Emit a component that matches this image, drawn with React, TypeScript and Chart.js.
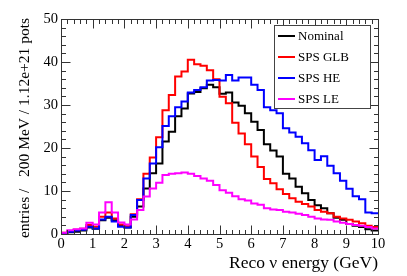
import { useEffect, useRef } from "react";
import { Chart, registerables } from "chart.js";

Chart.register(...registerables);

// ---- data (200 MeV bins from 0 to 10 GeV) ----
const BIN_WIDTH = 0.2;
const X_MIN = 0;
const X_MAX = 10;
const Y_MIN = 0;
const Y_MAX = 50;

const nominal = [
  0.2, 0.4, 0.5, 0.8, 1.5, 1.2, 3.2, 3.8, 3.2, 1.9,
  1.5, 4.0, 6.4, 10.6, 14.1, 16.4, 21.5, 23.8, 27.4, 29.2,
  32.7, 33.0, 33.9, 34.7, 34.1, 32.6, 32.9, 30.6, 29.8, 28.1,
  26.1, 24.2, 20.9, 19.4, 18.0, 14.0, 12.9, 11.0, 9.5, 7.9,
  6.7, 6.0, 4.8, 3.8, 3.3, 2.3, 1.9, 1.6, 1.1, 0.8,
];
const spsGLB = [
  0.3, 0.7, 1.0, 1.2, 2.1, 1.7, 4.0, 5.0, 3.6, 2.2,
  1.8, 4.6, 8.1, 14.0, 17.8, 22.5, 28.8, 32.3, 36.6, 37.8,
  40.5, 39.5, 39.1, 38.1, 36.0, 31.9, 30.4, 25.9, 23.4, 20.9,
  18.0, 15.6, 12.8, 11.8, 10.4, 9.3, 8.3, 7.5, 7.0, 6.4,
  5.6, 5.2, 4.8, 4.0, 3.6, 3.3, 2.9, 2.5, 1.9, 1.6,
];
const spsHE = [
  0.2, 0.5, 0.8, 1.0, 1.7, 1.3, 3.4, 4.0, 2.9, 1.7,
  1.5, 4.4, 7.9, 12.9, 16.4, 20.2, 25.1, 27.4, 29.5, 30.8,
  32.9, 33.5, 34.1, 35.7, 35.8, 35.7, 37.0, 35.7, 36.4, 36.4,
  34.7, 33.5, 29.5, 28.8, 28.1, 24.6, 23.6, 22.6, 21.1, 19.5,
  17.2, 18.1, 15.9, 14.1, 12.4, 10.5, 8.8, 8.1, 5.0, 4.8,
];
const spsLE = [
  0.3, 0.9, 1.1, 1.3, 2.6, 2.2, 5.0, 7.4, 5.0, 2.7,
  2.2, 3.4, 5.6, 8.7, 10.6, 11.9, 13.7, 14.0, 14.1, 14.3,
  14.0, 13.5, 12.9, 12.4, 11.4, 10.2, 9.6, 8.8, 8.1, 7.8,
  7.1, 6.8, 6.0, 5.7, 5.6, 5.2, 5.0, 4.7, 4.4, 4.0,
  3.6, 3.4, 3.3, 2.9, 2.6, 2.3, 2.1, 1.9, 1.6, 1.3,
];

const seriesLabels = ["Nominal", "SPS GLB", "SPS HE", "SPS LE"];
const seriesColors = ["#000000", "#ff0000", "#0000ff", "#ff00ff"];

const xTickValues = [0, 1, 2, 3, 4, 5, 6, 7, 8, 9, 10];
const xTickLabels = ["0", "1", "2", "3", "4", "5", "6", "7", "8", "9", "10"];
const yTickValues = [0, 10, 20, 30, 40, 50];
const yTickLabels = ["0", "10", "20", "30", "40", "50"];
const X_MINOR_STEP = 0.2;
const Y_MINOR_STEP = 2;

const xTitle = "Reco \u03bd energy (GeV)";
const yTitle = "entries /   200 MeV / 1.12e+21 pots";

const FONT = '"Liberation Serif", "DejaVu Serif", serif';

function toSteps(vals: number[]) {
  const pts = vals.map((v, i) => ({ x: X_MIN + i * BIN_WIDTH, y: v }));
  pts.push({ x: X_MIN + vals.length * BIN_WIDTH, y: vals[vals.length - 1] });
  return pts;
}

const rootStylePlugin = {
  id: "rootStyle",
  afterDraw(chart: any) {
    const { ctx, chartArea: a, scales } = chart;
    const xs = scales.x;
    const ys = scales.y;
    ctx.save();
    ctx.strokeStyle = "#333";
    ctx.lineWidth = 1;
    const L = Math.round(a.left) + 0.5;
    const R = Math.round(a.right) + 0.5;
    const T = Math.round(a.top) + 0.5;
    const B = Math.round(a.bottom) + 0.5;
    ctx.strokeRect(L, T, R - L, B - T);

    // x ticks (bottom and top)
    const nx = Math.round((X_MAX - X_MIN) / X_MINOR_STEP);
    ctx.beginPath();
    for (let k = 0; k <= nx; k++) {
      const v = X_MIN + k * X_MINOR_STEP;
      const major = xTickValues.some((t) => Math.abs(t - v) < 1e-6);
      const len = major ? 9 : 4.5;
      const px = Math.round(xs.getPixelForValue(v)) + 0.5;
      ctx.moveTo(px, B);
      ctx.lineTo(px, B - len);
      ctx.moveTo(px, T);
      ctx.lineTo(px, T + len);
    }
    // y ticks (left and right)
    const ny = Math.round((Y_MAX - Y_MIN) / Y_MINOR_STEP);
    for (let k = 0; k <= ny; k++) {
      const v = Y_MIN + k * Y_MINOR_STEP;
      const major = yTickValues.some((t) => Math.abs(t - v) < 1e-6);
      const len = major ? 9 : 4.5;
      const py = Math.round(ys.getPixelForValue(v)) + 0.5;
      ctx.moveTo(L, py);
      ctx.lineTo(L + len, py);
      ctx.moveTo(R, py);
      ctx.lineTo(R - len, py);
    }
    ctx.stroke();

    // tick labels
    ctx.fillStyle = "#000";
    ctx.font = `14.5px ${FONT}`;
    ctx.textAlign = "center";
    ctx.textBaseline = "top";
    xTickValues.forEach((v, i) => {
      ctx.fillText(xTickLabels[i], xs.getPixelForValue(v), a.bottom + 3);
    });
    ctx.textAlign = "right";
    ctx.textBaseline = "middle";
    yTickValues.forEach((v, i) => {
      ctx.fillText(yTickLabels[i], a.left - 3, ys.getPixelForValue(v));
    });

    // axis titles
    ctx.font = `17.5px ${FONT}`;
    ctx.textAlign = "right";
    ctx.textBaseline = "alphabetic";
    ctx.fillText(xTitle, a.right, a.bottom + 34);
    ctx.save();
    ctx.font = `15.5px ${FONT}`;
    ctx.translate(29, a.top - 1);
    ctx.rotate(-Math.PI / 2);
    ctx.textAlign = "right";
    ctx.textBaseline = "alphabetic";
    ctx.fillText(yTitle, 0, 0);
    ctx.restore();

    // legend
    const lx = 274.5, ly = 25.5, lw = 96, lh = 83;
    ctx.fillStyle = "#fff";
    ctx.fillRect(lx, ly, lw, lh);
    ctx.strokeStyle = "#444";
    ctx.lineWidth = 1;
    ctx.strokeRect(lx, ly, lw, lh);
    ctx.font = `13px ${FONT}`;
    ctx.textAlign = "left";
    ctx.textBaseline = "middle";
    seriesLabels.forEach((lab, i) => {
      const yy = 36 + i * 21;
      ctx.strokeStyle = seriesColors[i];
      ctx.lineWidth = 2;
      ctx.beginPath();
      ctx.moveTo(278, yy);
      ctx.lineTo(295, yy);
      ctx.stroke();
      ctx.fillStyle = "#000";
      ctx.fillText(lab, 298, yy + 0.5);
    });
    ctx.restore();
  },
};

export default function App() {
  const canvasRef = useRef<HTMLCanvasElement | null>(null);

  useEffect(() => {
    const canvas = canvasRef.current;
    if (!canvas) return;
    const allSeries = [nominal, spsGLB, spsHE, spsLE];
    const chart = new Chart(canvas, {
      type: "line",
      data: {
        datasets: allSeries.map((vals, i) => ({
          label: seriesLabels[i],
          data: toSteps(vals),
          borderColor: seriesColors[i],
          backgroundColor: seriesColors[i],
          borderWidth: 2,
          stepped: "before" as const,
          pointRadius: 0,
          fill: false,
          order: allSeries.length - i,
        })),
      },
      options: {
        animation: false,
        responsive: false,
        devicePixelRatio: 1,
        layout: { padding: { left: 61, right: 29, top: 19, bottom: 42 } },
        plugins: {
          legend: { display: false },
          tooltip: { enabled: false },
        },
        scales: {
          x: { type: "linear", min: X_MIN, max: X_MAX, display: false },
          y: { type: "linear", min: Y_MIN, max: Y_MAX, display: false },
        },
      },
      plugins: [rootStylePlugin],
    });
    return () => chart.destroy();
  }, []);

  return (
    <div style={{ position: "fixed", left: 0, top: 0, width: 407, height: 276, background: "#fff" }}>
      <canvas ref={canvasRef} width={407} height={276} style={{ width: 407, height: 276 }} />
    </div>
  );
}
